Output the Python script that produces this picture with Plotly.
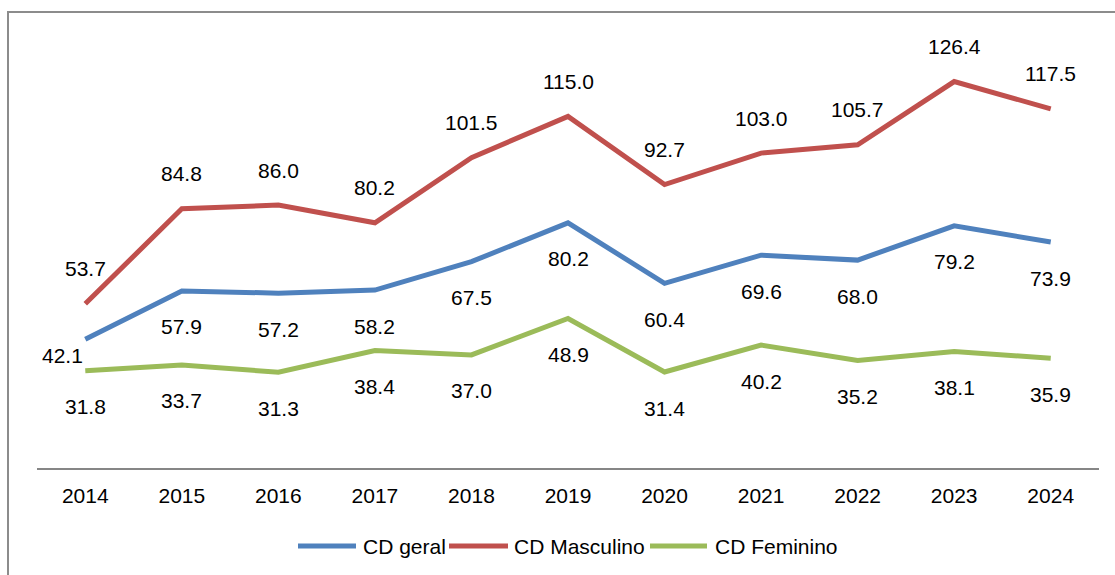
import plotly.graph_objects as go

years = ["2014", "2015", "2016", "2017", "2018", "2019", "2020", "2021", "2022", "2023", "2024"]
cd_geral = [42.1, 57.9, 57.2, 58.2, 67.5, 80.2, 60.4, 69.6, 68.0, 79.2, 73.9]
cd_masculino = [53.7, 84.8, 86.0, 80.2, 101.5, 115.0, 92.7, 103.0, 105.7, 126.4, 117.5]
cd_feminino = [31.8, 33.7, 31.3, 38.4, 37.0, 48.9, 31.4, 40.2, 35.2, 38.1, 35.9]

series = [
    ("CD geral", cd_geral, "#4F81BD", "below"),
    ("CD Masculino", cd_masculino, "#C0504D", "above"),
    ("CD Feminino", cd_feminino, "#9BBB59", "below"),
]

FONT = "Liberation Sans, Arial, sans-serif"
W, H = 1115, 575
L, R, T, B = 37, 16, 40, 107
PLOT_W, PLOT_H = W - L - R, H - T - B


def px_x(px):
    return (px - L) / PLOT_W


def px_y(py):
    return (H - B - py) / PLOT_H


fig = go.Figure()
annotations = []
shapes = []
for name, values, color, side in series:
    fig.add_trace(go.Scatter(
        x=years, y=values, name=name, mode="lines",
        line=dict(color=color, width=5),
        hoverinfo="skip", showlegend=False,
    ))
    for i, v in enumerate(values):
        xshift, yshift = 0, (35 if side == "above" else -36)
        # first point of the overall series sits to the left of its line
        if name == "CD geral" and i == 0:
            xshift, yshift = -23, -16
        annotations.append(dict(
            x=i, y=v, xref="x", yref="y", text=f"{v:.1f}", showarrow=False,
            xshift=xshift, yshift=yshift,
            font=dict(family=FONT, size=21, color="#000000"),
        ))

# legend row: swatch line followed by its label
legend_items = [(298, 356, 361), (449, 508, 512), (650, 707, 713)]
legend_y = 546
for (name, _, color, _), (s0, s1, tx) in zip(series, legend_items):
    shapes.append(dict(
        type="line", xref="paper", yref="paper",
        x0=px_x(s0), x1=px_x(s1), y0=px_y(legend_y), y1=px_y(legend_y),
        line=dict(color=color, width=5),
    ))
    annotations.append(dict(
        x=px_x(tx), y=px_y(legend_y), xref="paper", yref="paper",
        xanchor="left", yanchor="middle", text=name, showarrow=False,
        font=dict(family=FONT, size=21, color="#000000"),
    ))

# outer frame of the chart area
shapes.append(dict(
    type="rect", xref="paper", yref="paper",
    x0=px_x(8), x1=1.2, y0=-0.4, y1=px_y(12),
    line=dict(color="#8C8C8C", width=2), fillcolor="rgba(0,0,0,0)",
    layer="below",
))

fig.update_layout(
    width=W, height=H,
    margin=dict(l=L, r=R, t=T, b=B),
    paper_bgcolor="white", plot_bgcolor="white",
    showlegend=False,
    annotations=annotations,
    shapes=shapes,
    xaxis=dict(
        type="category", range=[-0.5, 10.5],
        showline=True, linecolor="#868686", linewidth=1.5,
        showgrid=False, zeroline=False, ticks="",
        ticklabelstandoff=8,
        tickfont=dict(family=FONT, size=21, color="#000000"),
        fixedrange=True,
    ),
    yaxis=dict(
        range=[0, 140], visible=False, showgrid=False, zeroline=False,
        fixedrange=True,
    ),
)

fig.write_html("out.html", config={"displayModeBar": False})
